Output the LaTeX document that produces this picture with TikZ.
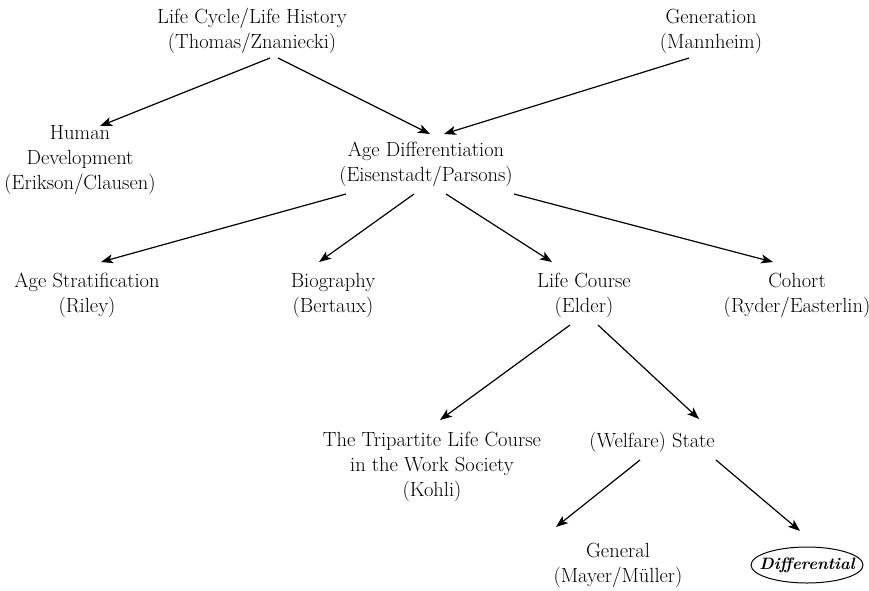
\documentclass[tikz,border=0pt]{standalone}
\usetikzlibrary{arrows.meta,calc}
\begin{document}
\begin{tikzpicture}[x=1pt,y=1pt,
  lbl/.style={align=center,inner sep=0pt,font=\fontsize{20.5}{25}\selectfont},
  conn/.style={-{Stealth[length=12pt,width=9pt,inset=3pt]},line width=1.2pt}]
\useasboundingbox (0,0) rectangle (869,-590);

% concepts
\node[lbl] (lc)  at (252,-31)  {Life Cycle/Life History\\(Thomas/Znaniecki)};
\node[lbl] (gen) at (711,-31)  {Generation\\(Mannheim)};
\node[lbl] (hd)  at (80,-160)  {Human\\Development\\(Erikson/Clausen)};
\node[lbl] (ad)  at (426,-164) {Age Differentiation\\(Eisenstadt/Parsons)};
\node[lbl] (as)  at (87,-295)  {Age Stratification\\(Riley)};
\node[lbl] (bio) at (333,-295) {Biography\\(Bertaux)};
\node[lbl] (lco) at (584,-295) {Life Course\\(Elder)};
\node[lbl] (coh) at (797,-295) {Cohort\\(Ryder/Easterlin)};
\node[lbl] (tri) at (432,-467) {The Tripartite Life Course\\in the Work Society\\(Kohli)};
\node[lbl] (ws)  at (652,-442) {(Welfare) State};
\node[lbl] (gn)  at (618,-565) {General\\(Mayer/Müller)};
\node[inner sep=0pt,font=\fontsize{16.5}{20}\selectfont\bfseries\itshape] (dif) at (807,-565) {Differential};
\draw[line width=1pt] (dif.center) ellipse [x radius=56, y radius=18];

% connectors
\draw[conn] ($(lc)+(18,-27)$)   -- ($(hd)+(20,34)$);
\draw[conn] ($(lc)+(26,-27)$)   -- ($(ad)+(4,30)$);
\draw[conn] ($(gen)+(-22,-27)$) -- ($(ad)+(18,30)$);
\draw[conn] ($(ad)+(-80,-30)$)  -- ($(as)+(14,33)$);
\draw[conn] ($(ad)+(-12,-30)$)  -- ($(bio)+(-14,33)$);
\draw[conn] ($(ad)+(20,-30)$)   -- ($(lco)+(-32,33)$);
\draw[conn] ($(ad)+(88,-30)$)   -- ($(coh)+(-24,33)$);
\draw[conn] ($(lco)+(-14,-30)$) -- ($(tri)+(8,47)$);
\draw[conn] ($(lco)+(14,-30)$)  -- ($(ws)+(47,23)$);
\draw[conn] ($(ws)+(-12,-18)$)  -- ($(gn)+(-62,38)$);
\draw[conn] ($(ws)+(64,-18)$)   -- ($(dif)+(-7,34)$);
\end{tikzpicture}
\end{document}
